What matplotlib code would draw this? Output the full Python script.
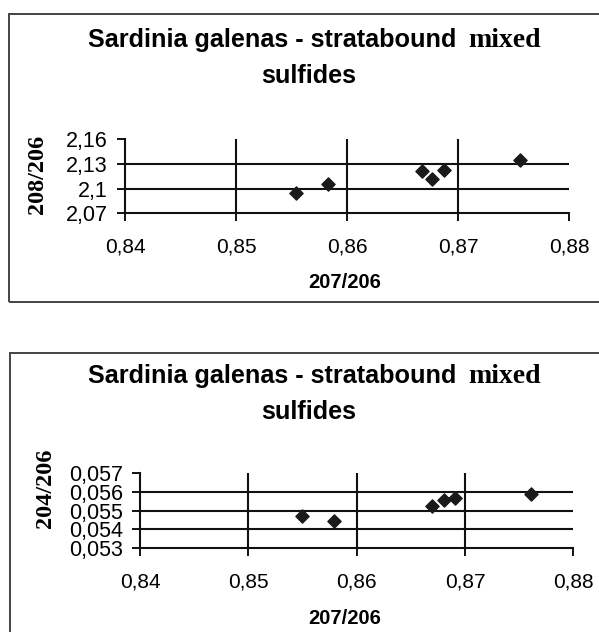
import matplotlib
matplotlib.use('Agg')
import matplotlib.pyplot as plt
from matplotlib.patches import Rectangle

W, H = 599, 632

# valores
x_208 = [0.8554, 0.8583, 0.8667, 0.8676, 0.8687, 0.8756]
y_208 = [2.095, 2.105, 2.121, 2.112, 2.123, 2.134]

x_204 = [0.8550, 0.8579, 0.8670, 0.8681, 0.8691, 0.8761]
y_204 = [0.05472, 0.05445, 0.05526, 0.05556, 0.05566, 0.05589]

x_ticks = [0.84, 0.85, 0.86, 0.87, 0.88]
x_ticklabels = ['0,84', '0,85', '0,86', '0,87', '0,88']
y_ticks_208 = [2.07, 2.10, 2.13, 2.16]
y_ticklabels_208 = ['2,07', '2,1', '2,13', '2,16']
y_ticks_204 = [0.053, 0.054, 0.055, 0.056, 0.057]
y_ticklabels_204 = ['0,053', '0,054', '0,055', '0,056', '0,057']

SANS = 'Liberation Sans'
SERIF = 'Liberation Serif'

fig = plt.figure(figsize=(W / 100, H / 100), dpi=100)


def fx(px):
    return px / W


def fy(py):
    return 1 - py / H


def panel(box, axbox, xs, ys, yticks, yticklabels, ylabel, ylabel_xy, dy):
    # marco del grafico
    bl, bt, br, bb = box
    fig.patches.append(Rectangle((fx(bl), fy(bb)), fx(br - bl), (bb - bt) / H,
                                 transform=fig.transFigure, fill=False,
                                 edgecolor='#444444', lw=1.4))
    l, t, r, b = axbox
    ax = fig.add_axes([fx(l), fy(b), fx(r - l), (b - t) / H])
    ax.scatter(xs, ys, marker='D', s=45, color='#1a1a1a', zorder=3)
    ax.set_xlim(x_ticks[0], x_ticks[-1])
    ax.set_ylim(yticks[0], yticks[-1])
    ax.set_xticks(x_ticks)
    ax.set_xticklabels(x_ticklabels, fontfamily=SANS, fontsize=15)
    ax.set_yticks(yticks)
    ax.set_yticklabels(yticklabels, fontfamily=SANS, fontsize=15.5,
                       linespacing=0.9)
    ax.tick_params(direction='out', length=5.5, width=1.4, color='#111111')
    ax.tick_params(axis='y', pad=7)
    ax.tick_params(axis='x', pad=12)
    for s in ['top', 'right']:
        ax.spines[s].set_visible(False)
    for s in ['left', 'bottom']:
        ax.spines[s].set_linewidth(1.5)
        ax.spines[s].set_color('#111111')
    ax.grid(True, color='#111111', lw=1.5)
    ax.set_axisbelow(True)
    ax.yaxis.get_gridlines()[-1].set_visible(False)
    ax.yaxis.get_gridlines()[0].set_visible(False)
    ax.xaxis.get_gridlines()[-1].set_visible(False)
    ax.xaxis.get_gridlines()[0].set_visible(False)
    ax.patch.set_alpha(0)

    # titulo mezclando fuentes como el original
    fig.text(fx(456), fy(47.3 + dy), 'Sardinia galenas - stratabound',
             fontfamily=SANS, fontweight='bold', fontsize=18.2,
             ha='right', va='baseline')
    fig.text(fx(468), fy(47.3 + dy), 'mixed', fontfamily=SERIF,
             fontweight='bold', fontsize=20, ha='left', va='baseline')
    fig.text(fx(309), fy(83.3 + dy), 'sulfides', fontfamily=SANS,
             fontweight='bold', fontsize=18.2, ha='center', va='baseline')
    fig.text(fx(345), fy(283 + dy), '207/206', fontfamily=SANS,
             fontweight='bold', fontsize=14.5, ha='center', va='center')
    fig.text(fx(ylabel_xy[0]), fy(ylabel_xy[1]), ylabel, fontfamily=SERIF,
             fontweight='bold', fontsize=17.5, rotation=90,
             ha='center', va='center')
    return ax


panel((9.3, 14, 640, 302.3), (125, 139, 569.3, 213.3), x_208, y_208,
      y_ticks_208, y_ticklabels_208, '208/206', (37.5, 174), 0)
panel((10, 352.7, 640, 700), (140, 473.3, 573.3, 547.7), x_204, y_204,
      y_ticks_204, y_ticklabels_204, '204/206', (45, 488), 336)

fig.savefig('out.png', dpi=100)
